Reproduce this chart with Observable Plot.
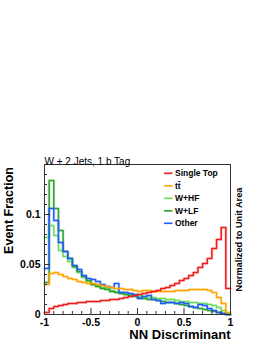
<!DOCTYPE html>
<html>
<head>
<meta charset="utf-8">
<script src="https://cdn.jsdelivr.net/npm/d3@7"></script>
<script src="https://cdn.jsdelivr.net/npm/@observablehq/plot@0.6"></script>
<style>
  html, body { margin: 0; padding: 0; background: #fff; }
  #chart { width: 270px; height: 349px; }
</style>
</head>
<body>
<div id="chart"></div>
<script>
// Bin edges of the NN discriminant histograms (40 bins)
const binEdges = [-1, -0.95, -0.9, -0.85, -0.8, -0.75, -0.7, -0.65, -0.6, -0.55,
  -0.5, -0.45, -0.4, -0.35, -0.3, -0.25, -0.2, -0.15, -0.1, -0.05,
  0, 0.05, 0.1, 0.15, 0.2, 0.25, 0.3, 0.35, 0.4, 0.45,
  0.5, 0.55, 0.6, 0.65, 0.7, 0.75, 0.8, 0.85, 0.9, 0.95, 1];

// Series values (event fraction per bin)
const singleTop = [0.002, 0.006, 0.008, 0.009, 0.010, 0.011, 0.011, 0.012, 0.012, 0.013,
  0.013, 0.013, 0.014, 0.014, 0.015, 0.015, 0.016, 0.017, 0.018, 0.019,
  0.020, 0.021, 0.022, 0.023, 0.024, 0.026, 0.027, 0.029, 0.031, 0.034,
  0.036, 0.039, 0.042, 0.047, 0.051, 0.056, 0.066, 0.075, 0.087, 0.026];
const ttbar = [0.030, 0.041, 0.042, 0.040, 0.038, 0.036, 0.035, 0.033, 0.032, 0.031,
  0.031, 0.030, 0.029, 0.028, 0.027, 0.026, 0.026, 0.025, 0.025, 0.024,
  0.023, 0.024, 0.024, 0.023, 0.023, 0.023, 0.023, 0.023, 0.024, 0.024,
  0.024, 0.025, 0.025, 0.025, 0.025, 0.024, 0.022, 0.017, 0.011, 0.002];
const wHF = [0.077, 0.089, 0.079, 0.064, 0.058, 0.053, 0.047, 0.042, 0.037, 0.033,
  0.030, 0.029, 0.027, 0.026, 0.024, 0.023, 0.022, 0.021, 0.020, 0.019,
  0.019, 0.018, 0.017, 0.017, 0.016, 0.016, 0.015, 0.015, 0.014, 0.013,
  0.013, 0.012, 0.012, 0.011, 0.011, 0.010, 0.009, 0.007, 0.004, 0.000];
const wLF = [0.032, 0.134, 0.106, 0.084, 0.063, 0.056, 0.048, 0.043, 0.038, 0.034,
  0.030, 0.028, 0.026, 0.025, 0.023, 0.022, 0.021, 0.020, 0.019, 0.018,
  0.017, 0.016, 0.015, 0.015, 0.014, 0.013, 0.012, 0.012, 0.011, 0.010,
  0.009, 0.008, 0.007, 0.006, 0.005, 0.004, 0.003, 0.002, 0.001, 0.000];
const other = [0.046, 0.106, 0.094, 0.072, 0.063, 0.056, 0.049, 0.045, 0.039, 0.036,
  0.035, 0.033, 0.030, 0.028, 0.027, 0.031, 0.022, 0.022, 0.021, 0.020,
  0.016, 0.018, 0.019, 0.015, 0.014, 0.011, 0.012, 0.012, 0.011, 0.012,
  0.011, 0.008, 0.007, 0.010, 0.009, 0.006, 0.004, 0.002, 0.001, 0.000];

const seriesNames = ["Single Top", "t\u0074\u0304", "W+HF", "W+LF", "Other"];
const seriesValues = [singleTop, ttbar, wHF, wLF, other];
const seriesColors = ["#ee1c1c", "#ffa500", "#6ddc5a", "#2ea02e", "#1f5cff"];
const drawOrder = [2, 3, 4, 1, 0];

// Tick labels / positions
const xMajorTicks = [-1, -0.5, 0, 0.5, 1];
const xMinorTicks = [-0.9, -0.8, -0.7, -0.6, -0.4, -0.3, -0.2, -0.1, 0.1, 0.2, 0.3, 0.4, 0.6, 0.7, 0.8, 0.9];
const yMajorTicks = [0, 0.05, 0.1];
const yMinorTicks = [0.01, 0.02, 0.03, 0.04, 0.06, 0.07, 0.08, 0.09, 0.11, 0.12, 0.13, 0.14];

const rows = [];
for (const k of drawOrder) {
  binEdges.forEach((x, i) => {
    rows.push({series: seriesNames[k], x, y: seriesValues[k][Math.min(i, seriesValues[k].length - 1)]});
  });
}

const W = 270, H = 349;
const mL = 44, mR = 40, mT = 164, mB = 35;
const frameW = W - mL - mR, frameH = H - mT - mB;
const font = "'Liberation Sans', Arial, Helvetica, sans-serif";

const chart = Plot.plot({
  width: W, height: H,
  marginLeft: mL, marginRight: mR, marginTop: mT, marginBottom: mB,
  style: {fontFamily: font, background: "#fff", color: "#000"},
  x: {domain: [-1, 1]},
  y: {domain: [0, 0.15]},
  color: {domain: seriesNames, range: seriesColors},
  marks: [
    Plot.line(rows, {x: "x", y: "y", z: "series", stroke: "series", curve: "step-after", strokeWidth: 3.2, strokeOpacity: 0.18}),
    Plot.line(rows, {x: "x", y: "y", z: "series", stroke: "series", curve: "step-after", strokeWidth: 1.5}),
    Plot.frame({stroke: "#333", strokeWidth: 1}),
    Plot.tickX(xMinorTicks, {x: d => d, insetTop: frameH - 3, stroke: "#333"}),
    Plot.tickX(xMajorTicks, {x: d => d, insetTop: frameH - 6, stroke: "#333"}),
    Plot.tickY(yMinorTicks, {y: d => d, insetRight: frameW - 3, stroke: "#333"}),
    Plot.tickY(yMajorTicks, {y: d => d, insetRight: frameW - 6, stroke: "#333"}),
    Plot.axisX(xMajorTicks, {tickSize: 0, tickPadding: 4, label: null, tickFormat: d => String(d), fontSize: 10.5, fontWeight: "bold"}),
    Plot.axisY(yMajorTicks, {tickSize: 0, tickPadding: 4, label: null, tickFormat: d => String(d), fontSize: 10.5, fontWeight: "bold"}),
    Plot.text(["W + 2 Jets, 1 b Tag"], {frameAnchor: "top-left", dy: -7, textAnchor: "start", fontSize: 10, fontFamily: font}),
    Plot.text(["Event Fraction"], {frameAnchor: "left", dx: -35.5, dy: -29, rotate: -90, textAnchor: "middle", fontSize: 12.5, fontWeight: "bold"}),
    Plot.text(["NN Discriminant"], {frameAnchor: "bottom-right", dy: 24, textAnchor: "end", fontSize: 13, fontWeight: "bold"}),
    Plot.text(["Normalized to Unit Area"], {frameAnchor: "right", dx: 9, dy: 0, rotate: -90, textAnchor: "middle", fontSize: 9.2, fontWeight: "bold"})
  ]
});

// Legend (inside the frame, top right)
const svg = d3.select(chart);
const lg = svg.append("g").attr("transform", "translate(164,173.3)");
seriesNames.forEach((name, i) => {
  const g = lg.append("g").attr("transform", `translate(0,${i * 12.5})`);
  g.append("line").attr("x1", 0).attr("x2", 8.5).attr("y1", 0).attr("y2", 0)
    .attr("stroke", seriesColors[i]).attr("stroke-width", 1.6);
  g.append("text").attr("x", 11).attr("y", 0).attr("dy", "0.35em")
    .attr("text-anchor", "start")
    .attr("font-family", font).attr("font-size", 8.5).attr("font-weight", "bold")
    .attr("fill", "#000").text(name);
});

document.getElementById("chart").appendChild(chart);
</script>
</body>
</html>
